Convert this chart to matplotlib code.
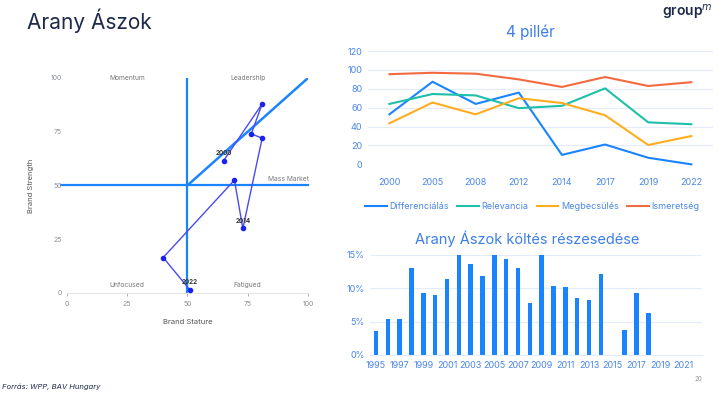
import matplotlib.pyplot as plt
from matplotlib.ticker import PercentFormatter

plt.rcParams['font.family'] = ['Inter', 'DejaVu Sans']

# Brand asset valuator path (Brand Stature, Brand Strength)
bav_years = ['2000', '2005', '2008', '2012', '2014', '2017', '2019', '2022']
stature = [65, 81, 76.5, 81, 73, 69.5, 40, 51]
strength = [61.5, 88, 74, 72, 30, 52.5, 16.5, 1.5]
labelled = ['2000', '2014', '2022']

# 4 pillars
pillar_years = ['2000', '2005', '2008', '2012', '2014', '2017', '2019', '2022']
differencialas = [53, 87.5, 64, 76, 10, 21, 7, 0]
relevancia = [64, 74.5, 73, 59.5, 62, 80.5, 44.5, 42.5]
megbecsules = [43.5, 65.5, 53, 70, 65, 52, 20.5, 30]
ismeretseg = [95.5, 97, 96, 90, 82, 92.5, 83, 87]

# spend share
spend_years = list(range(1995, 2023))
spend_share = [3.6, 5.35, 5.4, 13, 9.25, 8.95, 11.4, 15.1, 13.7, 11.85, 15.1, 14.35,
               13.1, 7.75, 15.1, 10.3, 10.2, 8.6, 8.25, 12.2, 0, 3.75, 9.25, 6.25,
               0, 0, 0, 0]

BLUE = '#1a84ff'
TICK_BLUE = '#4a86e8'
NAVY = '#1f2a4a'
GRAY = '#8a8f98'

fig = plt.figure(figsize=(7.27, 3.97), dpi=100)

fig.text(0.037, 0.947, 'Arany Ászok', fontsize=15, color=NAVY, va='center', ha='left')
fig.text(0.98, 0.968, 'group$^{m}$', fontsize=10, color=NAVY, va='center', ha='right',
         fontweight='semibold')
fig.text(0.003, 0.027, 'Forrás: WPP, BAV Hungary', fontsize=5.5, color=NAVY,
         style='italic', va='center', ha='left')
fig.text(0.96, 0.045, '20', fontsize=4.5, color=GRAY, ha='center', va='center')

# ---- left: quadrant chart
ax1 = fig.add_axes([0.0917, 0.262, 0.332, 0.5416])
ax1.plot([50, 50], [0, 100], color=BLUE, lw=1.6, zorder=1)
ax1.plot([-2.5, 100], [50, 50], color=BLUE, lw=1.6, zorder=1, clip_on=False)
ax1.plot([50, 100], [50, 100], color=BLUE, lw=1.8, zorder=1)
ax1.plot(stature, strength, color='#4b4bf0', lw=1, zorder=2)
ax1.scatter(stature, strength, s=9, color='#1a22ee', zorder=3)
for yr, x, y in zip(bav_years, stature, strength):
    if yr in labelled:
        ax1.text(x, y + 2, yr, fontsize=4.5, fontweight='bold', color='#333333',
                 ha='center', va='bottom')
for txt, x, y in [('Momentum', 25, 100), ('Leadership', 75, 100), ('Mass Market', 92, 53),
                  ('Unfocused', 25, 3.5), ('Fatigued', 75, 3.5)]:
    ax1.text(x, y, txt, fontsize=4.8, color='#777777', ha='center', va='center')
ax1.set_xlim(0, 100)
ax1.set_ylim(0, 100)
ax1.set_xticks([0, 25, 50, 75, 100])
ax1.set_yticks([0, 25, 50, 75, 100])
ax1.tick_params(labelsize=5, colors=GRAY, length=2, width=0.5)
ax1.tick_params(axis='y', length=0)
for s in ['top', 'right', 'left']:
    ax1.spines[s].set_visible(False)
ax1.spines['bottom'].set_color('#e6e6e6')
ax1.set_xlabel('Brand Stature', fontsize=5.5, color='#555555', labelpad=9)
ax1.set_ylabel('Brand Strength', fontsize=5.5, color='#555555', labelpad=12)

# ---- top right: 4 pillars
ax2 = fig.add_axes([0.506, 0.586, 0.4746, 0.2854])
xs = range(len(pillar_years))
ax2.plot(xs, differencialas, color='#1a84ff', lw=1.5, label='Differenciálás', clip_on=False)
ax2.plot(xs, relevancia, color='#1fbfa9', lw=1.5, label='Relevancia', clip_on=False)
ax2.plot(xs, megbecsules, color='#ffad1f', lw=1.5, label='Megbecsülés', clip_on=False)
ax2.plot(xs, ismeretseg, color='#f26a3f', lw=1.5, label='Ismeretség', clip_on=False)
ax2.set_xlim(-0.5, len(pillar_years) - 0.5)
ax2.set_ylim(0, 120)
ax2.set_yticks(range(0, 121, 20))
ax2.set_xticks(list(xs))
ax2.set_xticklabels(pillar_years)
ax2.grid(axis='y', color='#e3ecfa', lw=0.8)
ax2.set_axisbelow(True)
ax2.tick_params(labelsize=6.5, colors=TICK_BLUE, length=0, pad=4)
ax2.tick_params(axis='x', pad=10)
for s in ax2.spines.values():
    s.set_visible(False)
ax2.set_title('4 pillér', fontsize=11, color='#3d7fe6', pad=10, x=0.472)
ax2.legend(loc='upper center', bbox_to_anchor=(0.477, -0.26), ncol=4, frameon=False,
           fontsize=6.5, labelcolor=TICK_BLUE, handlelength=2.4, columnspacing=0.9,
           handletextpad=0.3)

# ---- bottom right: spend share
ax3 = fig.add_axes([0.509, 0.1058, 0.456, 0.2519])
ax3.bar(range(len(spend_years)), spend_share, width=0.38, color=BLUE)
ax3.set_xlim(-0.5, len(spend_years) - 0.5)
ax3.set_ylim(0, 15)
ax3.set_yticks([0, 5, 10, 15])
ax3.yaxis.set_major_formatter(PercentFormatter(decimals=0))
ax3.set_xticks(range(0, len(spend_years), 2))
ax3.set_xticklabels([str(y) for y in spend_years[::2]])
ax3.grid(axis='y', color='#e3ecfa', lw=0.8)
ax3.set_axisbelow(True)
ax3.tick_params(labelsize=6.5, colors=TICK_BLUE, length=0, pad=4)
for s in ax3.spines.values():
    s.set_visible(False)
ax3.spines['bottom'].set_visible(True)
ax3.spines['bottom'].set_color('#e3ecfa')
ax3.set_title('Arany Ászok költés részesedése', fontsize=10.5, color='#3d7fe6', pad=8,
              x=0.473)

fig.savefig('out.png', dpi=100)
